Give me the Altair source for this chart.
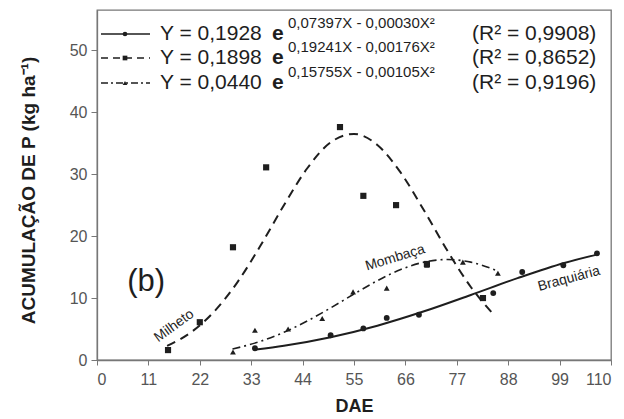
import altair as alt
import pandas as pd

mil_x = [15.2, 22.0, 29.1, 36.2, 52.0, 57.0, 64.0, 70.6, 82.6]
mil_y = [1.6, 6.1, 18.2, 31.1, 37.6, 26.5, 25.0, 15.5, 10.0]
mom_x = [29.1, 33.8, 40.9, 48.2, 54.8, 62.0, 70.6, 78.3, 85.8]
mom_y = [1.3, 4.8, 5.0, 6.7, 11.0, 11.6, 15.3, 15.8, 14.0]
bra_x = [33.8, 50.0, 57.0, 62.0, 68.9, 84.8, 91.0, 99.8, 107.0]
bra_y = [1.9, 4.0, 5.1, 6.8, 7.3, 10.8, 14.2, 15.3, 17.2]

# ---- fitted regression lines ----
mil_cx = [15, 20, 25, 30, 35, 40, 45, 50, 55, 60, 65, 70, 75, 80, 85]
mil_cy = [2.29, 4.40, 7.75, 12.50, 18.47, 24.98, 30.95, 35.13, 36.49, 34.71,
          30.24, 24.12, 17.62, 11.79, 7.23]
mom_cx = [29, 35, 40, 45, 50, 55, 60, 65, 70, 75, 80, 86]
mom_cy = [1.76, 3.02, 4.47, 6.30, 8.41, 10.65, 12.80, 14.61, 15.80, 16.22, 15.80, 14.29]
bra_cx = [34, 40, 50, 60, 70, 80, 90, 100, 107]
bra_cy = [1.69, 2.30, 3.68, 5.54, 7.86, 10.50, 13.21, 15.66, 17.01]

# ---- axis ticks ----
x_ticks = [0, 11, 22, 33, 44, 55, 66, 77, 88, 99, 110]
y_ticks = [0, 10, 20, 30, 40, 50]

# ---- legend / annotation texts ----
leg_main = ["Y = 0,1928", "Y = 0,1898", "Y = 0,0440"]
leg_e = ["e", "e", "e"]
leg_exp = ["0,07397X - 0,00030X²", "0,19241X - 0,00176X²", "0,15755X - 0,00105X²"]
leg_r2 = ["(R² = 0,9908)", "(R² = 0,8652)", "(R² = 0,9196)"]
ann_text = ["Milheto", "Mombaça", "Braquiária"]
ann_x = [16.5, 63.8, 101.0]
ann_y = [5.5, 16.5, 13.1]
ann_angle = [324, 343, 345]
panel_label = "(b)"

FONT = "Liberation Sans"
NARROW = "Liberation Sans Narrow, Liberation Sans"
INK = "#1e1e1e"

xs = alt.Scale(domain=[0, 110], nice=False, zero=False)
ys = alt.Scale(domain=[0, 56.5], nice=False)

X = alt.X("x:Q", scale=xs,
          axis=alt.Axis(values=x_ticks, title="DAE", grid=False,
                        labelFont=NARROW, labelFontSize=16, labelColor="#555",
                        labelPadding=6, tickSize=5, tickColor="#777",
                        domainColor="#777", domainWidth=1.3,
                        titleFont=FONT, titleFontSize=18, titleFontWeight="bold",
                        titleColor=INK, titleY=46, titleBaseline="middle"))
Y = alt.Y("y:Q", scale=ys,
          axis=alt.Axis(values=y_ticks, title="ACUMULAÇÃO DE P (kg ha⁻¹)", grid=False,
                        labelFont=NARROW, labelFontSize=16, labelColor="#555",
                        labelPadding=4, tickSize=6, tickColor="#777",
                        domainColor="#777", domainWidth=1.3,
                        titleFont=FONT, titleFontSize=19, titleFontWeight="bold",
                        titleColor=INK, titleAngle=270, titleX=-69, titleY=180,
                        titleAlign="center", titleBaseline="middle"))

def df(xv, yv):
    return pd.DataFrame({"x": xv, "y": yv})

mil_line = alt.Chart(df(mil_cx, mil_cy)).mark_line(
    color=INK, strokeWidth=2, strokeDash=[9, 6], interpolate="monotone").encode(x=X, y=Y)
mom_line = alt.Chart(df(mom_cx, mom_cy)).mark_line(
    color=INK, strokeWidth=1.6, strokeDash=[8, 4, 2, 4], interpolate="monotone").encode(x=X, y=Y)
bra_line = alt.Chart(df(bra_cx, bra_cy)).mark_line(
    color=INK, strokeWidth=2, interpolate="monotone").encode(x=X, y=Y)

mil_pts = alt.Chart(df(mil_x, mil_y)).mark_point(
    shape="square", filled=True, size=38, color=INK, opacity=1).encode(x=X, y=Y)
mom_pts = alt.Chart(df(mom_x, mom_y)).mark_point(
    shape="triangle-up", filled=True, size=34, color=INK, opacity=1).encode(x=X, y=Y)
bra_pts = alt.Chart(df(bra_x, bra_y)).mark_point(
    shape="circle", filled=True, size=34, color=INK, opacity=1).encode(x=X, y=Y)

ann = alt.Chart(pd.DataFrame({"x": ann_x, "y": ann_y, "t": ann_text, "a": ann_angle})).mark_text(
    font=NARROW, fontSize=14, color=INK, align="center", baseline="middle").encode(
    x=X, y=Y, text="t:N", angle=alt.Angle("a:Q", scale=None))

panel = alt.Chart(pd.DataFrame({"x": [10.5], "y": [12.6], "t": [panel_label]})).mark_text(
    font=FONT, fontSize=31, color=INK, align="center", baseline="middle").encode(
    x=X, y=Y, text="t:N")

# legend rows (pixel layout, relative to the plot area)
row_y = [24, 48, 73]
dashes = [None, [7, 5], [7, 3, 2, 3]]
shapes = ["circle", "square", "triangle-up"]
legend_layers = []
for i in range(3):
    rule_kw = dict(color=INK, strokeWidth=1.6)
    if dashes[i] is not None:
        rule_kw["strokeDash"] = dashes[i]
    one = pd.DataFrame({"t": [leg_main[i]]})
    legend_layers.append(alt.Chart(one).mark_rule(**rule_kw).encode(
        x=alt.value(4), x2=alt.value(53), y=alt.value(row_y[i])))
    legend_layers.append(alt.Chart(one).mark_point(
        shape=shapes[i], filled=True, size=22, color=INK, opacity=1).encode(
        x=alt.value(28), y=alt.value(row_y[i])))
    legend_layers.append(alt.Chart(one).mark_text(
        font=FONT, fontSize=21, color=INK, align="left", baseline="middle").encode(
        x=alt.value(63), y=alt.value(row_y[i]), text="t:N"))
    legend_layers.append(alt.Chart(pd.DataFrame({"t": [leg_e[i]]})).mark_text(
        font=FONT, fontSize=21, fontWeight="bold", color=INK, align="left",
        baseline="middle").encode(
        x=alt.value(175), y=alt.value(row_y[i]), text="t:N"))
    legend_layers.append(alt.Chart(pd.DataFrame({"t": [leg_exp[i]]})).mark_text(
        font=FONT, fontSize=15, color=INK, align="left", baseline="middle").encode(
        x=alt.value(191), y=alt.value(row_y[i] - 11), text="t:N"))
    legend_layers.append(alt.Chart(pd.DataFrame({"t": [leg_r2[i]]})).mark_text(
        font=FONT, fontSize=21, color=INK, align="left", baseline="middle").encode(
        x=alt.value(375), y=alt.value(row_y[i]), text="t:N"))

chart = alt.layer(
    mil_line, mom_line, bra_line, mil_pts, mom_pts, bra_pts, ann, panel, *legend_layers
).properties(
    width=514, height=350,
    autosize=alt.AutoSizeParams(type="none"),
    padding={"left": 97, "top": 10, "right": 13, "bottom": 59},
    background="white",
).configure_view(stroke="#777", strokeWidth=1.3)

chart.save("out.html", embed_options={"renderer": "svg", "actions": False})
